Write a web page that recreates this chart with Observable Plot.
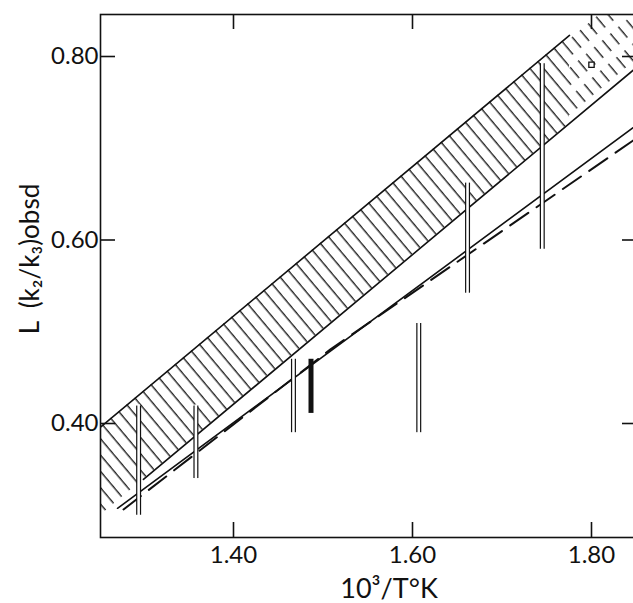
<!DOCTYPE html>
<html><head><meta charset="utf-8">
<script src="https://cdn.jsdelivr.net/npm/d3@7"></script>
<script src="https://cdn.jsdelivr.net/npm/@observablehq/plot@0.6"></script>
<style>html,body{margin:0;padding:0;background:#fff;overflow:hidden}
svg{max-width:none !important;height:603px !important;display:block}</style>
</head><body><div id="chart"></div>
<script>
// tick values
const xTicks = [1.40, 1.60, 1.80];
const yTicks = [0.40, 0.60, 0.80];
// hatched band (upper / lower bounds)
const bandX = [1.2514, 1.7754, 1.8514];
const bandUpper = [0.396, 0.823, 0.885];
const bandLower = [0.300, 0.727, 0.789];
// visible lower edge of band
const bandEdgeX = [1.2994, 1.8514];
const bandEdgeY = [0.339, 0.789];
// solid line
const solidX = [1.2704, 1.8514];
const solidY = [0.3076, 0.7259];
// dashed line
const dashX = [1.2771, 1.5084, 1.8514];
const dashY = [0.3063, 0.4808, 0.7117];
// hollow error bars
const barX = [1.294, 1.358, 1.467, 1.607, 1.6615, 1.745];
const barLow = [0.300, 0.340, 0.390, 0.390, 0.542, 0.590];
const barHigh = [0.419, 0.419, 0.470, 0.509, 0.662, 0.792];
// filled error bar
const fillX = [1.4866];
const fillLow = [0.411];
const fillHigh = [0.470];
// small square symbol
const markX = [1.800];
const markY = [0.791];

const band = bandX.map((x, i) => ({x, lo: bandLower[i], hi: bandUpper[i]}));
const bandSolid = band.slice(0, 2);
const bandDashed = band.slice(1, 3);
const edge = bandEdgeX.map((x, i) => ({x, y: bandEdgeY[i]}));
const upperEdge = bandSolid.map(d => ({x: d.x, y: d.hi}));
const solid = solidX.map((x, i) => ({x, y: solidY[i]}));
const dashed = dashX.map((x, i) => ({x, y: dashY[i]}));
const bars = barX.map((x, i) => ({x, lo: barLow[i], hi: barHigh[i]}));
const fills = fillX.map((x, i) => ({x, lo: fillLow[i], hi: fillHigh[i]}));
const marks = markX.map((x, i) => ({x, y: markY[i]}));

const W = 645, H = 603, mL = 100, mR = 8, mT = 14, mB = 66;
const pw = W - mL - mR, ph = H - mT - mB;
const ink = "#111";
const font = "Lato, 'Open Sans', sans-serif";

const svg = Plot.plot({
  width: W, height: H,
  marginLeft: mL, marginRight: mR, marginTop: mT, marginBottom: mB,
  style: {fontFamily: font, background: "#fff", color: ink, maxWidth: "none"},
  x: {domain: [1.2514, 1.8514], axis: null},
  y: {domain: [0.27575, 0.84578], axis: null},
  marks: [
    Plot.areaY(bandSolid, {x: "x", y1: "lo", y2: "hi", fill: "url(#hatchSolid)", clip: true}),
    Plot.areaY(bandDashed, {x: "x", y1: "lo", y2: "hi", fill: "url(#hatchDash)", clip: true}),
    Plot.line(upperEdge, {x: "x", y: "y", stroke: ink, strokeWidth: 1.6, clip: true}),
    Plot.line(edge, {x: "x", y: "y", stroke: ink, strokeWidth: 1.6, clip: true}),
    Plot.line(solid, {x: "x", y: "y", stroke: ink, strokeWidth: 1.6, clip: true}),
    Plot.line(dashed, {x: "x", y: "y", stroke: ink, strokeWidth: 2, strokeDasharray: "22,10", clip: true}),
    Plot.ruleX(bars, {x: "x", y1: "lo", y2: "hi", stroke: ink, strokeWidth: 5}),
    Plot.ruleX(bars, {x: "x", y1: "lo", y2: "hi", stroke: "#fff", strokeWidth: 2.6, insetTop: 1.2, insetBottom: 1.2}),
    Plot.ruleX(fills, {x: "x", y1: "lo", y2: "hi", stroke: ink, strokeWidth: 5}),
    Plot.dot(marks, {x: "x", y: "y", symbol: "square", r: 3, stroke: ink, strokeWidth: 1.3, fill: "#fff"}),
    Plot.frame({stroke: ink, strokeWidth: 1.6}),
    Plot.tickX(xTicks, {x: d => d, stroke: ink, strokeWidth: 1.6, insetTop: ph - 15}),
    Plot.tickX(xTicks, {x: d => d, stroke: ink, strokeWidth: 1.6, insetBottom: ph - 15}),
    Plot.tickY(yTicks, {y: d => d, stroke: ink, strokeWidth: 1.6, insetRight: pw - 15}),
    Plot.tickY(yTicks, {y: d => d, stroke: ink, strokeWidth: 1.6, insetLeft: pw - 15}),
    Plot.text(xTicks, {x: d => d, text: d => d.toFixed(2), frameAnchor: "bottom", lineAnchor: "top", dy: 8, fontSize: 24, fill: ink}),
    Plot.text(yTicks, {y: d => d, text: d => d.toFixed(2), frameAnchor: "left", textAnchor: "end", dx: -2, fontSize: 24, fill: ink}),
    Plot.text(["10³/T°K"], {text: d => d, frameAnchor: "bottom", textAnchor: "middle", lineAnchor: "bottom", dx: 20, dy: 60, fontSize: 27, fill: ink}),
    Plot.text(["L  (k₂/k₃)obsd"], {text: d => d, frameAnchor: "left", textAnchor: "middle", rotate: -90, dx: -70, dy: -17, fontSize: 26, fill: ink})
  ]
});

const defs = `<defs>
<pattern id="hatchSolid" patternUnits="userSpaceOnUse" width="10.5" height="20" patternTransform="rotate(-40)">
<line x1="5" y1="-1" x2="5" y2="21" stroke="${ink}" stroke-width="1.3"/></pattern>
<pattern id="hatchDash" patternUnits="userSpaceOnUse" width="10.5" height="22" patternTransform="rotate(-40)">
<line x1="5" y1="0" x2="5" y2="14" stroke="${ink}" stroke-width="1.3"/></pattern>
</defs>`;
svg.insertAdjacentHTML("afterbegin", defs);
document.getElementById("chart").appendChild(svg);
</script>
</body></html>
